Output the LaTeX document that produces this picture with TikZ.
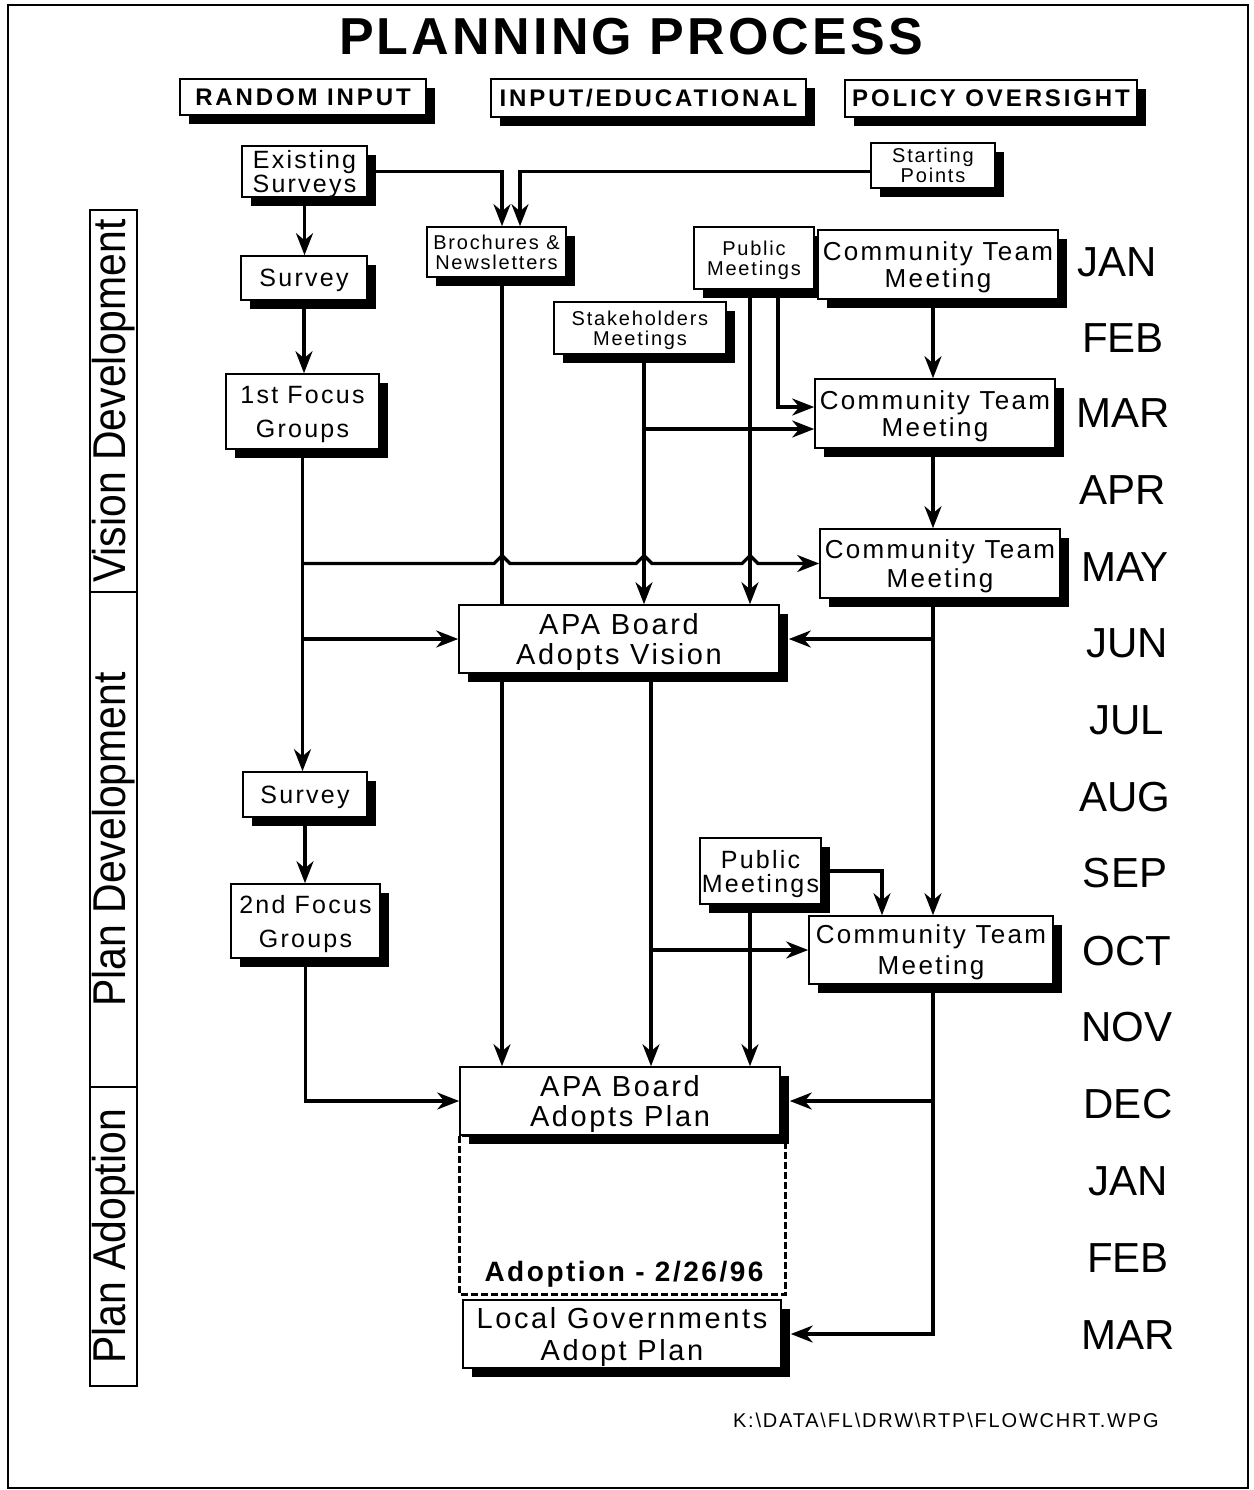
\documentclass[tikz,border=0pt]{standalone}
\usepackage{fontspec}
\setmainfont[LetterSpace=9]{Liberation Sans}
\newfontfamily\titlesf[LetterSpace=6]{Liberation Sans}
\newfontfamily\headsf[LetterSpace=12]{Liberation Sans}
\newfontfamily\monthsf{Liberation Sans}
\newfontfamily\narrowsf[FakeStretch=0.89]{Liberation Sans}
\usetikzlibrary{arrows.meta, shadows, backgrounds}

\begin{document}
\begin{tikzpicture}[
    x=0.5pt, y=-0.5pt,
    box/.style={draw, line width=0.8pt, fill=white, align=center, inner sep=0pt, text depth=-2.3pt,
        drop shadow={shadow xshift=4.5pt, shadow yshift=-4.5pt, fill=black, opacity=1}},
    smallbox/.style={box, font=\fontsize{10}{10}\selectfont},
    midbox/.style={box, font=\fontsize{12.5}{17}\selectfont},
    ctmbox/.style={box, minimum width=120pt, minimum height=34.5pt, font=\fontsize{13}{13.5}\selectfont},
    boardbox/.style={box, minimum width=160pt, minimum height=34pt, font=\fontsize{14.5}{15}\selectfont},
    headbox/.style={box, text depth=-4.5pt, font=\headsf\bfseries\fontsize{12}{14}\selectfont},
    sidebox/.style={draw, line width=0.6pt, rotate=90, minimum height=23.5pt, inner sep=0pt, font=\narrowsf\fontsize{23}{23}\selectfont},
    monthlabel/.style={font=\monthsf\fontsize{21}{21}\selectfont},
    arr/.style={-{Stealth[length=11pt, width=8.5pt, inset=3.5pt]}, line width=1.6pt},
    dashbox/.style={line width=1.5pt, dash pattern=on 3.5pt off 1.5pt}
]
\useasboundingbox (0,0) rectangle (1254,1490);
\draw[line width=1pt] (8,5) rectangle (1248,1488);

% title and column heads
\node[font=\titlesf\bfseries\fontsize{26}{30}\selectfont] (title) at (631,37) {PLANNING PROCESS};
\node[headbox, minimum width=123pt, minimum height=18pt] (random) at (303,97) {RANDOM INPUT};
\node[headbox, minimum width=157.5pt, minimum height=19pt] (educ) at (648.5,98) {INPUT/EDUCATIONAL};
\node[headbox, minimum width=146pt, minimum height=18.5pt] (policy) at (991,98.5) {POLICY OVERSIGHT};

% phases
\node[sidebox, minimum width=191pt] (phVision) at (113.5,401) {Vision Development};
\node[sidebox, minimum width=247.5pt] (phPlan) at (113.5,839.5) {Plan Development};
\node[sidebox, minimum width=149.5pt] (phAdopt) at (113.5,1236.5) {Plan Adoption};

% random input
\node[midbox, minimum width=62.5pt, minimum height=25.5pt, text depth=-4pt, font=\fontsize{12.5}{10.5}\selectfont] (exist) at (304.5,171.5) {Existing\\Surveys};
\node[midbox, minimum width=63pt, minimum height=22pt] (survA) at (304,278) {Survey};
\node[midbox, minimum width=76.5pt, minimum height=37.5pt, text depth=-4.5pt] (focusA) at (302.5,411.5) {1st Focus\\Groups};
\node[midbox, minimum width=62pt, minimum height=22.5pt, text depth=-5.5pt] (survB) at (305,794.5) {Survey};
\node[midbox, minimum width=74.5pt, minimum height=37pt] (focusB) at (305.5,921) {2nd Focus\\Groups};

% input / educational
\node[smallbox, minimum width=69.5pt, minimum height=25pt] (broch) at (496.5,252) {Brochures \&\\Newsletters};
\node[smallbox, minimum width=86pt, minimum height=26pt] (stake) at (640,328) {Stakeholders\\Meetings};
\node[smallbox, minimum width=60pt, minimum height=31pt] (pubA) at (754,258) {Public\\Meetings};
\node[midbox, minimum width=60.5pt, minimum height=33pt, text depth=-5pt, font=\fontsize{12.5}{12}\selectfont] (pubB) at (760.5,871) {Public\\Meetings};

% policy oversight
\node[smallbox, minimum width=62pt, minimum height=22.5pt] (start) at (933,165.5) {Starting\\Points};
\node[ctmbox] (ctmA) at (938,264.5) {Community Team\\Meeting};
\node[ctmbox] (ctmB) at (935,413.5) {Community Team\\Meeting};
\node[ctmbox, text depth=-6pt, font=\fontsize{13}{14.5}\selectfont] (ctmC) at (940,563.5) {Community Team\\Meeting};
\node[ctmbox, minimum width=122pt, minimum height=34pt, font=\fontsize{13}{15.5}\selectfont] (ctmD) at (931,950) {Community Team\\Meeting};

% board decisions
\node[boardbox] (vision) at (619,639) {APA Board\\Adopts Vision};
\node[boardbox, text depth=-5pt] (plan) at (620,1101) {APA Board\\Adopts Plan};
\node[boardbox, minimum width=159pt, text depth=-3.3pt, font=\fontsize{14.5}{16}\selectfont] (local) at (622,1334) {Local Governments\\Adopt Plan};
\node[font=\bfseries\fontsize{14}{14}\selectfont] (adopt) at (624,1274) {Adoption - 2/26/96};

% months
\node[monthlabel] (m01) at (1117,262) {JAN};
\node[monthlabel] (m02) at (1123,338) {FEB};
\node[monthlabel] (m03) at (1123,413) {MAR};
\node[monthlabel] (m04) at (1123,490) {APR};
\node[monthlabel] (m05) at (1125,567) {MAY};
\node[monthlabel] (m06) at (1127,643) {JUN};
\node[monthlabel] (m07) at (1127,720) {JUL};
\node[monthlabel] (m08) at (1125,797) {AUG};
\node[monthlabel] (m09) at (1125,873) {SEP};
\node[monthlabel] (m10) at (1127,951) {OCT};
\node[monthlabel] (m11) at (1127,1027) {NOV};
\node[monthlabel] (m12) at (1128,1104) {DEC};
\node[monthlabel] (m13) at (1128,1181) {JAN};
\node[monthlabel] (m14) at (1128,1258) {FEB};
\node[monthlabel] (m15) at (1128,1335) {MAR};

\node[anchor=west, font=\fontsize{10}{12}\selectfont] (file) at (726,1420) {K:\textbackslash DATA\textbackslash FL\textbackslash DRW\textbackslash RTP\textbackslash FLOWCHRT.WPG};

% trunk columns and branch rows
\coordinate (cB) at (502,0);
\coordinate (cH) at (520,0);
\coordinate (cC) at (644,0);
\coordinate (cD) at (651,0);
\coordinate (cE) at (750,0);
\coordinate (cF) at (778,0);
\coordinate (cG) at (933,0);
\coordinate (cI) at (882,0);
\coordinate (rP) at (0,407);
\coordinate (rS) at (0,429);

\begin{scope}[on background layer]
\draw[arr] (exist.east) -| (cB |- broch.north);
\draw[arr] (start.west |- exist.east) -| (cH |- broch.north);
\draw[arr] (exist.south) -- (exist.south |- survA.north);
\draw[arr] (survA.south) -- (survA.south |- focusA.north);
\draw[arr] (focusA.south) -- (focusA.south |- survB.north);
\draw[arr] (focusA.south |- ctmC.west) -- ([xshift=-4pt]cB |- ctmC.west) -- ([yshift=4pt]cB |- ctmC.west) -- ([xshift=4pt]cB |- ctmC.west)
    -- ([xshift=-4pt]cC |- ctmC.west) -- ([yshift=4pt]cC |- ctmC.west) -- ([xshift=4pt]cC |- ctmC.west)
    -- ([xshift=-4pt]cE |- ctmC.west) -- ([yshift=4pt]cE |- ctmC.west) -- ([xshift=4pt]cE |- ctmC.west) -- (ctmC.west);
\draw[arr] (focusA.south |- vision.west) -- (vision.west);
\draw[arr] (survB.south) -- (survB.south |- focusB.north);
\draw[arr] (focusB.south) |- (plan.west);
\draw[arr] (cB |- broch.south) -- (cB |- plan.north);
\draw[arr] (cC |- stake.south) -- (cC |- vision.north);
\draw[arr] (cC |- rS) -- (ctmB.west |- rS);
\draw[arr] (cE |- pubA.south) -- (cE |- vision.north);
\draw[arr] (cF |- pubA.south) |- (ctmB.west |- rP);
\draw[arr] (cG |- ctmA.south) -- (cG |- ctmB.north);
\draw[arr] (cG |- ctmB.south) -- (cG |- ctmC.north);
\draw[arr] (cG |- ctmC.south) -- (cG |- ctmD.north);
\draw[arr] (cG |- vision.east) -- ([xshift=4.5pt]vision.east);
\draw[arr] (cD |- vision.south) -- (cD |- plan.north);
\draw[arr] (cD |- ctmD.west) -- (ctmD.west);
\draw[arr] (pubB.east) -| (cI |- ctmD.north);
\draw[arr] (cE |- pubB.south) -- (cE |- plan.north);
\draw[arr] (cG |- ctmD.south) |- ([xshift=4.5pt]local.east);
\draw[arr] (cG |- plan.east) -- ([xshift=4.5pt]plan.east);
\draw[dashbox] (plan.south west) rectangle ([xshift=2pt,yshift=2.5pt]local.north east);
\end{scope}
\end{tikzpicture}
\end{document}
